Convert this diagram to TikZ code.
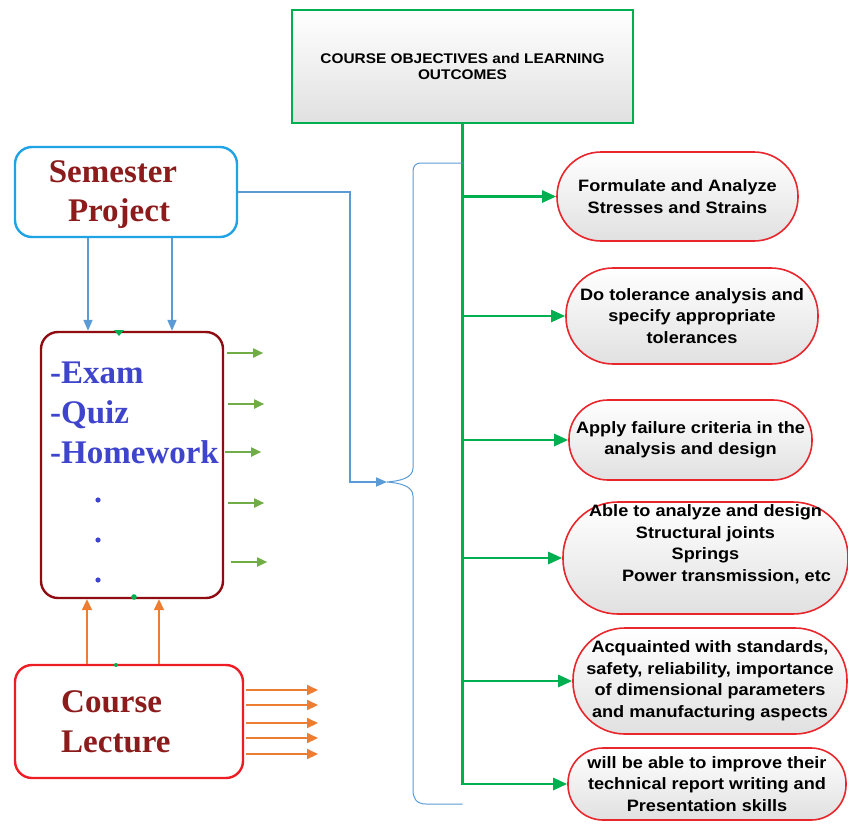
\documentclass[tikz,border=0pt]{standalone}
\usepackage{fontspec}
\setmainfont{Liberation Serif}
\newfontfamily\ovalfont[FakeStretch=1.1]{Liberation Sans}
\usetikzlibrary{arrows.meta}
\definecolor{objgreen}{HTML}{00B050}
\definecolor{ovalred}{HTML}{E8262C}
\definecolor{projblue}{HTML}{1FA3E4}
\definecolor{maroontext}{HTML}{8C1C1C}
\definecolor{examborder}{HTML}{8E0C12}
\definecolor{examblue}{HTML}{3F44CC}
\definecolor{linkblue}{HTML}{5B9BD5}
\definecolor{leafgreen}{HTML}{70AD47}
\definecolor{lectorange}{HTML}{ED7D31}
\definecolor{lectred}{HTML}{EE1C25}

\begin{document}
\begin{tikzpicture}[x=1pt,y=-1pt,
  objbox/.style={draw=objgreen,line width=2.6pt,top color=white,bottom color=black!12,
    minimum width=341pt,minimum height=113pt,align=center,
    font=\ovalfont\bfseries\fontsize{14}{16.5}\selectfont},
  outcome/.style args={#1/#2/#3}{draw=ovalred,line width=1.6pt,rounded corners=#3,
    top color=white,bottom color=black!12,align=center,inner sep=0pt,
    minimum width=#1,minimum height=#2,
    font=\ovalfont\bfseries\fontsize{16.5}{21.5}\selectfont},
  leftbox/.style args={#1/#2/#3}{draw=#1,line width=2.4pt,rounded corners=17pt,
    minimum width=#2,minimum height=#3},
  semtext/.style={text=maroontext,inner sep=0pt,font=\bfseries\fontsize{33}{40}\selectfont},
  examtext/.style={text=examblue,inner sep=0pt,font=\bfseries\fontsize{33}{40}\selectfont},
  greenarrow/.style={draw=objgreen,line width=2.6pt,-{Triangle[length=14pt,width=12pt]}},
  leafarrow/.style={draw=leafgreen,line width=1.8pt,-{Triangle[length=10pt,width=9pt]}},
  lectarrow/.style={draw=lectorange,line width=2pt,-{Triangle[length=11pt,width=10pt]}},
  linkarrow/.style={draw=linkblue,line width=1.8pt,-{Triangle[length=11pt,width=9pt]}},
  bracestyle/.style={draw=linkblue,line width=1pt}]

\useasboundingbox (0,0) rectangle (848,825);

\node[objbox] (obj) at (462.5,66.5) {COURSE OBJECTIVES and LEARNING\\OUTCOMES};

\node[outcome=241pt/89pt/44pt] (o1) at (677.5,196.5) {Formulate and Analyze\\Stresses and Strains};
\node[outcome=252pt/96pt/47pt] (o2) at (692,316) {Do tolerance analysis and\\specify appropriate\\tolerances};
\node[outcome=243pt/80pt/39pt] (o3) at (690.5,440) {Apply failure criteria in the\\analysis and design};
\node[outcome=285pt/112pt/55pt] (o4) at (705.5,558) {Able to analyze and design\\Structural joints\\Springs\\\hspace*{42pt}Power transmission, etc\\[8pt]\mbox{}};
\node[outcome=274pt/106pt/52pt] (o5) at (710,681) {Acquainted with standards,\\safety, reliability, importance\\of dimensional parameters\\and manufacturing aspects};
\node[outcome=278pt/72pt/35pt] (o6) at (707,784) {will be able to improve their\\technical report writing and\\Presentation skills};

\draw[greenarrow] (obj.south) |- (o6.west);
\foreach \i in {1,...,5}
  \draw[greenarrow] (obj.south |- o\i.west) -- (o\i.west);

\node[leftbox=projblue/222pt/90pt] (sem) at (126,192) {};
\node[leftbox=examborder/182pt/266pt] (exam) at (132,465) {};
\node[leftbox=lectred/228pt/113pt] (lec) at (129,721.5) {};

\node[semtext,anchor=base] (semA) at (113,182) {Semester};
\node[semtext,anchor=base] (semB) at (119,221) {Project};
\node[semtext,anchor=base west] (lecA) at (61,712) {Course};
\node[semtext,anchor=base west] (lecB) at (61,752) {Lecture};
\foreach \t [count=\i] in {-Exam,-Quiz,-Homework}
  \node[examtext,anchor=base west] (item\i) at (50,343+40*\i) {\t};
\foreach \y in {500,540,580}
  \fill[examblue] (98,\y) circle (2.6);

\fill[objgreen] (114,330) -- (124,330) -- (119,336) -- cycle;
\fill[objgreen] (134,597) circle (2.8);
\fill[objgreen] (116,665) circle (2);

\foreach \x in {88,172}
  \draw[linkarrow] (sem.south -| \x,0) -- (exam.north -| \x,0);
\foreach \x in {87,159}
  \draw[lectarrow] (lec.north -| \x,0) -- (exam.south -| \x,0);
\foreach \y/\s in {353/3,404/4,452/1,503/4,562/7}
  \draw[leafarrow] (exam.east |- 0,\y) ++(\s,0) -- ++(36,0);
\foreach \y in {690,705,723,738,754}
  \draw[lectarrow] (lec.east |- 0,\y) ++(2,0) -- (318,\y);

\coordinate (tip) at (387,482);
\draw[linkarrow] (sem.east) -| (350,482) -- (tip);
\draw[bracestyle] (obj.south |- 0,163) -- (422,163)
  .. controls (415,163) and (413,166) .. (413,172) -- (413,468)
  .. controls (413,478) and (400,481) .. (tip)
  .. controls (400,483) and (413,486) .. (413,496) -- (413,790)
  .. controls (413,798) and (416,804) .. (426,804) -- (obj.south |- 0,804);

\end{tikzpicture}
\end{document}
